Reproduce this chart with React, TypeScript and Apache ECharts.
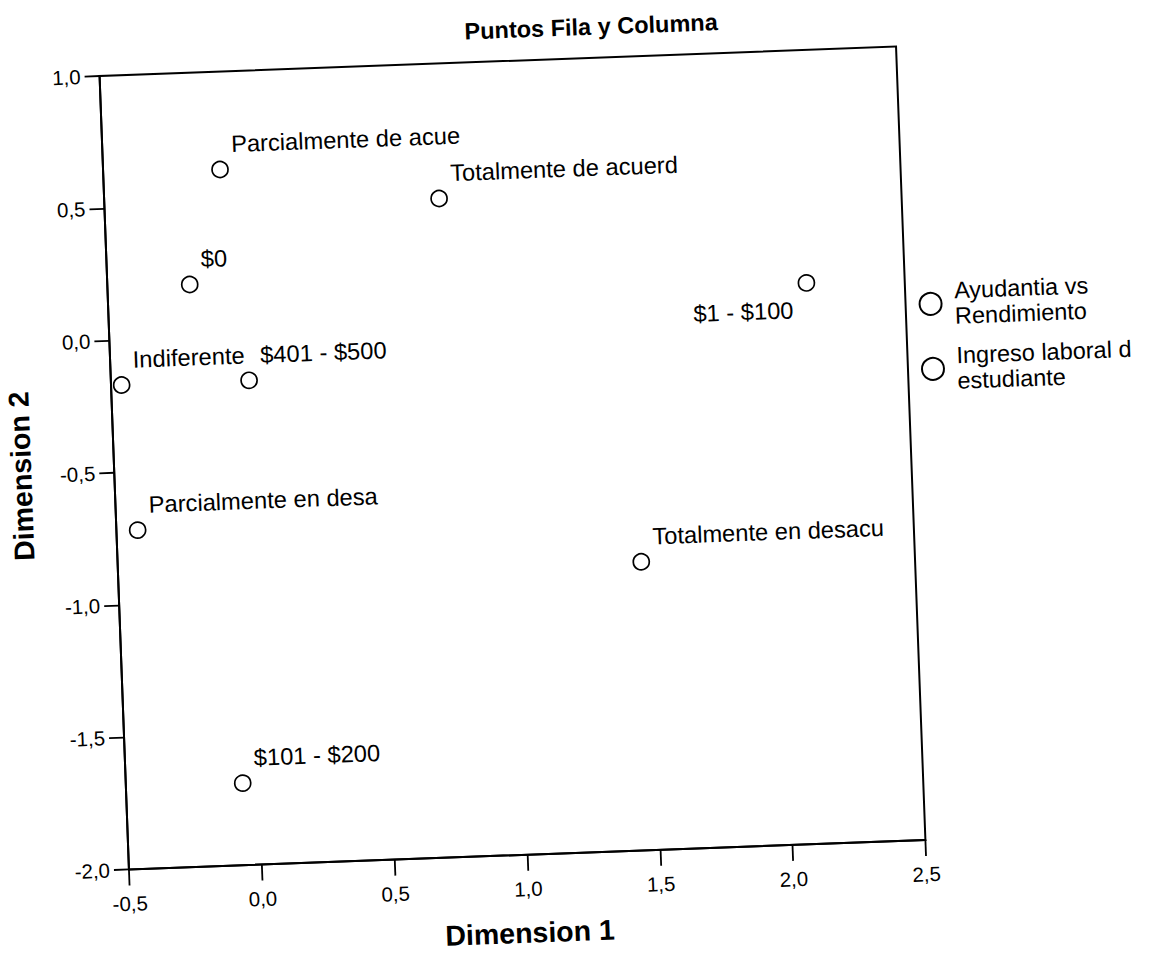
import React, { useEffect, useRef } from 'react';
import * as echarts from 'echarts';

const chartTitle = 'Puntos Fila y Columna';
const xAxisName = 'Dimension 1';
const yAxisName = 'Dimension 2';

const xMin = -0.5;
const xMax = 2.5;
const yMin = -2.0;
const yMax = 1.0;
const tickStep = 0.5;

// Row points: Ayudantia vs Rendimiento
const ayudantiaName = 'Ayudantia vs Rendimiento';
const ayudantiaLabels = [
  'Parcialmente de acue',
  'Totalmente de acuerd',
  'Indiferente',
  'Parcialmente en desa',
  'Totalmente en desacu',
];
const ayudantiaDim1 = [-0.06, 0.76, -0.46, -0.42, 1.47];
const ayudantiaDim2 = [0.63, 0.49, -0.17, -0.72, -0.91];

// Column points: Ingreso laboral del estudiante
const ingresoName = 'Ingreso laboral del estudiante';
const ingresoLabels = ['$0', '$1 - $100', '$401 - $500', '$101 - $200'];
const ingresoDim1 = [-0.19, 2.13, 0.02, -0.06];
const ingresoDim2 = [0.2, 0.12, -0.17, -1.69];

const legendLines: Record<string, string> = {
  [ayudantiaName]: 'Ayudantia vs\nRendimiento',
  [ingresoName]: 'Ingreso laboral del\nestudiante',
};

const FONT = "'Liberation Sans', Arial, Helvetica, sans-serif";

const fmt = (v: number) => v.toFixed(1).replace('.', ',');

export default function App() {
  const ref = useRef<HTMLDivElement>(null);

  useEffect(() => {
    if (!ref.current) return;
    const chart = echarts.init(ref.current, null, { renderer: 'svg' });

    const baseLabel = {
      show: true,
      formatter: '{b}',
      position: 'inside',
      align: 'left',
      verticalAlign: 'middle',
      offset: [12, -25],
      fontSize: 23.7,
      color: '#000',
      fontFamily: FONT,
    };
    const leftBelowLabel = {
      ...baseLabel,
      align: 'right',
      offset: [-14, 27],
    };

    const buildData = (names: string[], xs: number[], ys: number[]) =>
      names.map((n, i) => {
        const item: any = { name: n, value: [xs[i], ys[i]] };
        if (n === '$1 - $100') item.label = leftBelowLabel;
        return item;
      });

    const itemStyle = {
      color: '#fff',
      borderColor: '#000',
      borderWidth: 1.7,
      opacity: 1,
    };

    chart.setOption({
      animation: false,
      textStyle: { fontFamily: FONT, color: '#000' },
      graphic: [
        {
          type: 'text',
          x: 607,
          y: 30,
          style: {
            text: chartTitle,
            font: `bold 23.5px ${FONT}`,
            fill: '#000',
            align: 'center',
            verticalAlign: 'middle',
            textAlign: 'center',
            textVerticalAlign: 'middle',
          },
        },
      ],
      legend: {
        orient: 'vertical',
        left: 919,
        top: 289,
        itemWidth: 22,
        itemHeight: 22,
        itemGap: 14,
        icon: 'circle',
        selectedMode: false,
        formatter: (name: string) => legendLines[name] ?? name,
        textStyle: {
          fontSize: 23.5,
          lineHeight: 25.5,
          color: '#000',
          fontFamily: FONT,
          padding: [0, 0, 0, 8],
        },
        data: [ayudantiaName, ingresoName],
      },
      grid: {
        left: 114,
        top: 61,
        width: 797,
        height: 794,
        show: true,
        borderColor: '#000',
        borderWidth: 2,
        backgroundColor: 'transparent',
        containLabel: false,
        outerBoundsMode: 'none',
      },
      xAxis: {
        type: 'value',
        min: xMin,
        max: xMax,
        interval: tickStep,
        name: xAxisName,
        nameLocation: 'middle',
        nameGap: 64,
        nameTextStyle: {
          fontSize: 28.5,
          fontWeight: 'bold',
          lineHeight: 28,
          color: '#000',
          fontFamily: FONT,
        },
        axisLine: { show: true, onZero: false, lineStyle: { color: '#000', width: 2 } },
        axisTick: { show: true, inside: false, length: 16, lineStyle: { color: '#000', width: 1.8 } },
        axisLabel: {
          formatter: fmt,
          fontSize: 20.5,
          lineHeight: 20,
          margin: 24,
          color: '#000',
          fontFamily: FONT,
          showMinLabel: true,
          showMaxLabel: true,
        },
        splitLine: { show: false },
      },
      yAxis: {
        type: 'value',
        min: yMin,
        max: yMax,
        interval: tickStep,
        name: yAxisName,
        nameLocation: 'middle',
        nameGap: 79,
        nameTextStyle: {
          fontSize: 28.5,
          fontWeight: 'bold',
          lineHeight: 28,
          color: '#000',
          fontFamily: FONT,
        },
        axisLine: { show: true, onZero: false, lineStyle: { color: '#000', width: 2 } },
        axisTick: { show: true, inside: false, length: 15, lineStyle: { color: '#000', width: 1.8 } },
        axisLabel: {
          formatter: fmt,
          fontSize: 20.5,
          margin: 19,
          color: '#000',
          fontFamily: FONT,
          showMinLabel: true,
          showMaxLabel: true,
        },
        splitLine: { show: false },
      },
      series: [
        {
          type: 'scatter',
          name: ayudantiaName,
          symbol: 'circle',
          symbolSize: 16,
          itemStyle,
          label: baseLabel,
          emphasis: { disabled: true },
          data: buildData(ayudantiaLabels, ayudantiaDim1, ayudantiaDim2),
        },
        {
          type: 'scatter',
          name: ingresoName,
          symbol: 'circle',
          symbolSize: 16,
          itemStyle,
          label: baseLabel,
          emphasis: { disabled: true },
          data: buildData(ingresoLabels, ingresoDim1, ingresoDim2),
        },
      ],
    });

    return () => {
      chart.dispose();
    };
  }, []);

  return (
    <div
      style={{
        position: 'fixed',
        left: 0,
        top: 0,
        width: 1157,
        height: 954,
        overflow: 'hidden',
        background: '#fff',
      }}
    >
      <div
        ref={ref}
        style={{
          position: 'absolute',
          left: 0,
          top: 0,
          width: 1135,
          height: 954,
          overflow: 'hidden',
          transform: 'rotate(-2.12deg)',
          transformOrigin: '512.25px 458.25px',
        }}
      />
    </div>
  );
}
